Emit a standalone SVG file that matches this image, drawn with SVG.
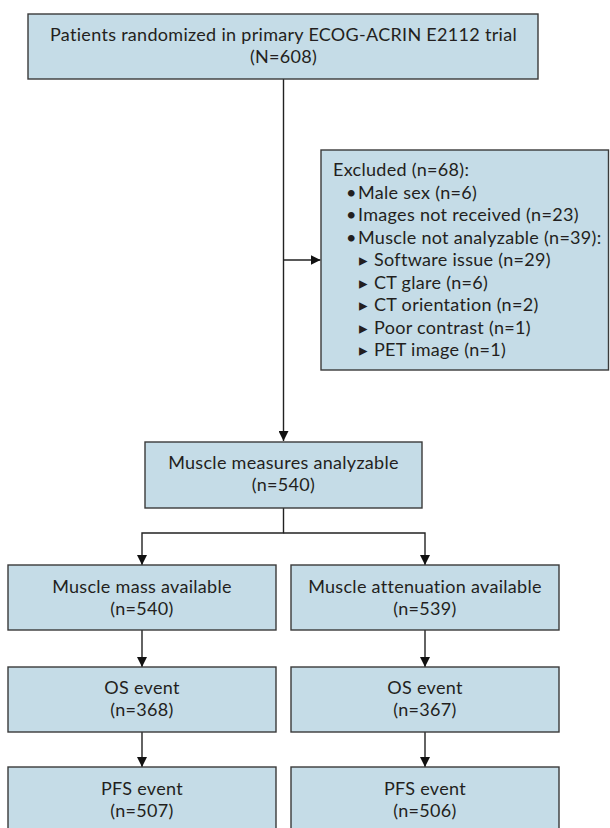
<svg xmlns="http://www.w3.org/2000/svg" width="610" height="828" viewBox="0 0 610 828">
<style>
.box{fill:#c5dce7;stroke:#3a3a3a;stroke-width:1.4}
text{font-family:Lato,"Noto Sans","DejaVu Sans",sans-serif;font-size:18px;letter-spacing:0.3px;fill:#231f20}
.c{text-anchor:middle}
.ln{fill:none;stroke:#222;stroke-width:1.4}
.sym{font-family:"DejaVu Sans",sans-serif;font-size:17px;letter-spacing:0}
</style>
<defs>
<marker id="ah" viewBox="0 0 10 10" refX="10" refY="5" markerWidth="10" markerHeight="10" markerUnits="userSpaceOnUse" orient="auto">
<path d="M0,0 L10,5 L0,10 z" fill="#111"/>
</marker>
</defs>
<rect width="610" height="828" fill="#fff"/>
<g id="connectors">
<line class="ln" x1="283.5" y1="79" x2="283.5" y2="441" marker-end="url(#ah)"/>
<line class="ln" x1="283.5" y1="260" x2="320.5" y2="260" marker-end="url(#ah)"/>
<polyline class="ln" points="283.5,508 283.5,533 142,533 142,565" marker-end="url(#ah)"/>
<polyline class="ln" points="283.5,533 425,533 425,565" marker-end="url(#ah)"/>
<line class="ln" x1="142" y1="630" x2="142" y2="667" marker-end="url(#ah)"/>
<line class="ln" x1="425" y1="630" x2="425" y2="667" marker-end="url(#ah)"/>
<line class="ln" x1="142" y1="732" x2="142" y2="767" marker-end="url(#ah)"/>
<line class="ln" x1="425" y1="732" x2="425" y2="767" marker-end="url(#ah)"/>
</g>
<g id="n_randomized">
<rect class="box" x="28" y="14" width="510" height="65"/>
<text class="c" x="283.5" y="41">Patients randomized in primary ECOG-ACRIN E2112 trial</text>
<text class="c" x="283.5" y="63">(N=608)</text>
</g>
<g id="n_excluded">
<rect class="box" x="321" y="150" width="287.5" height="220"/>
<text x="333" y="176">Excluded (n=68):</text>
<text y="198.5"><tspan x="346">•</tspan><tspan x="358">Male sex (n=6)</tspan></text>
<text y="221"><tspan x="346">•</tspan><tspan x="358">Images not received (n=23)</tspan></text>
<text y="243.5"><tspan x="346">•</tspan><tspan x="358">Muscle not analyzable (n=39):</tspan></text>
<text y="266"><tspan class="sym" x="359">▸</tspan><tspan x="374">Software issue (n=29)</tspan></text>
<text y="288.5"><tspan class="sym" x="359">▸</tspan><tspan x="374">CT glare (n=6)</tspan></text>
<text y="311"><tspan class="sym" x="359">▸</tspan><tspan x="374">CT orientation (n=2)</tspan></text>
<text y="333.5"><tspan class="sym" x="359">▸</tspan><tspan x="374">Poor contrast (n=1)</tspan></text>
<text y="356"><tspan class="sym" x="359">▸</tspan><tspan x="374">PET image (n=1)</tspan></text>
</g>
<g id="n_analyzable">
<rect class="box" x="145" y="442" width="277" height="66"/>
<text class="c" x="283.5" y="469">Muscle measures analyzable</text>
<text class="c" x="283.5" y="491">(n=540)</text>
</g>
<g id="n_mass">
<rect class="box" x="8" y="565" width="268" height="65"/>
<text class="c" x="142" y="593">Muscle mass available</text>
<text class="c" x="142" y="615">(n=540)</text>
</g>
<g id="n_atten">
<rect class="box" x="291" y="565" width="268" height="65"/>
<text class="c" x="425" y="593">Muscle attenuation available</text>
<text class="c" x="425" y="615">(n=539)</text>
</g>
<g id="n_os_mass">
<rect class="box" x="8" y="667" width="268" height="65"/>
<text class="c" x="142" y="694">OS event</text>
<text class="c" x="142" y="716">(n=368)</text>
</g>
<g id="n_os_atten">
<rect class="box" x="291" y="667" width="268" height="65"/>
<text class="c" x="425" y="694">OS event</text>
<text class="c" x="425" y="716">(n=367)</text>
</g>
<g id="n_pfs_mass">
<rect class="box" x="8" y="767" width="268" height="75"/>
<text class="c" x="142" y="795">PFS event</text>
<text class="c" x="142" y="817">(n=507)</text>
</g>
<g id="n_pfs_atten">
<rect class="box" x="291" y="767" width="268" height="75"/>
<text class="c" x="425" y="795">PFS event</text>
<text class="c" x="425" y="817">(n=506)</text>
</g>
</svg>
